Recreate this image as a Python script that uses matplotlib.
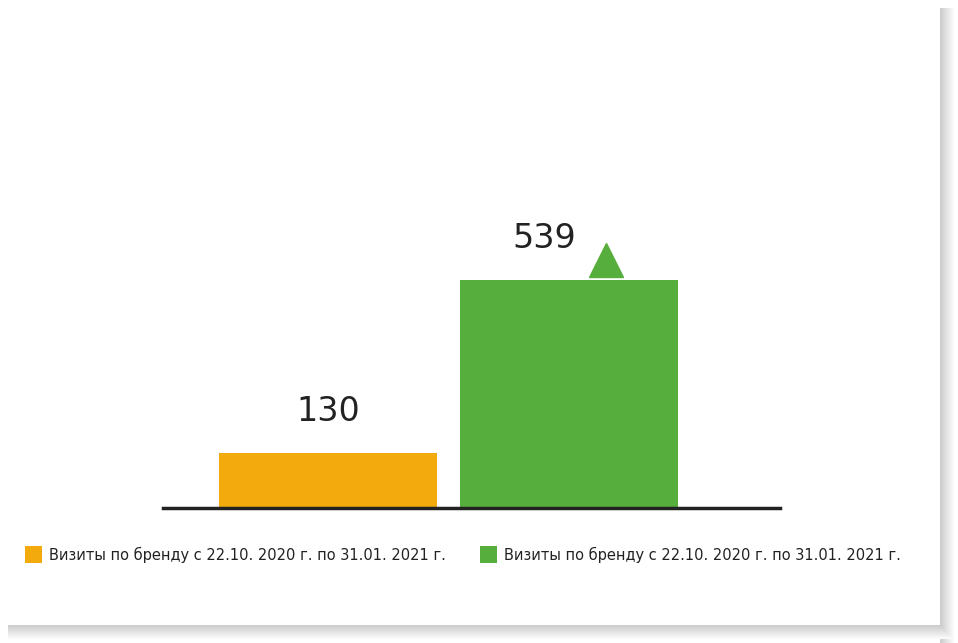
import matplotlib
matplotlib.use("Agg")
import matplotlib.pyplot as plt
from matplotlib.patches import Rectangle

categories = ["Визиты по бренду с 22.10. 2020 г. по 31.01. 2021 г.",
              "Визиты по бренду с 22.10. 2020 г. по 31.01. 2021 г."]
values = [130, 539]
colors = ["#F2AA0C", "#56AF3C"]

W, H = 958, 643
fig = plt.figure(figsize=(W/100, H/100), dpi=100)
fig.patch.set_facecolor("white")
# shadow of the card
for i in range(14):
    g = 0.80 + i*0.014
    fig.add_artist(Rectangle(((940+i)/W, 0), 1/W, 1 - 8/H, transform=fig.transFigure, color=(g, g, g), lw=0))
    fig.add_artist(Rectangle((8/W, (H-626-i)/H), (940+i-8)/W, 1/H, transform=fig.transFigure, color=(g, g, g), lw=0))

ax_l, ax_r, ax_b, ax_t = 163, 780, 508, 40
ax = fig.add_axes([ax_l/W, (H-ax_b)/H, (ax_r-ax_l)/W, (ax_b-ax_t)/H])
ax.bar([0, 1], values, width=0.906, color=colors)
ax.set_xlim(-0.686, 1.879)
ax.set_ylim(0, 1106)
for s in ["top", "right", "left"]:
    ax.spines[s].set_visible(False)
ax.spines["bottom"].set_linewidth(2.5)
ax.spines["bottom"].set_color("#222222")
ax.set_xticks([]); ax.set_yticks([])
ax.patch.set_alpha(0)

ax.annotate(f"{values[0]}", (0, values[0]), xytext=(0, 18), textcoords="offset points",
            ha="center", va="bottom", fontsize=24, color="#222222")
ax.annotate(f"{values[1]}", (0.9, values[1]), xytext=(0, 18), textcoords="offset points",
            ha="center", va="bottom", fontsize=24, color="#222222")
ax.plot([1.155], [values[1] + 48], marker="^", markersize=24, color=colors[1], clip_on=False)

# legend
for x0, c, lab in [(25, colors[0], categories[0]), (480, colors[1], categories[1])]:
    fig.add_artist(Rectangle((x0/W, (H-563)/H), 17/W, 17/H, transform=fig.transFigure, color=c, lw=0))
    fig.text((x0+24)/W, (H-555)/H, lab, fontsize=10.5, va="center", ha="left", color="#222222")

fig.savefig("out.png", dpi=100)
